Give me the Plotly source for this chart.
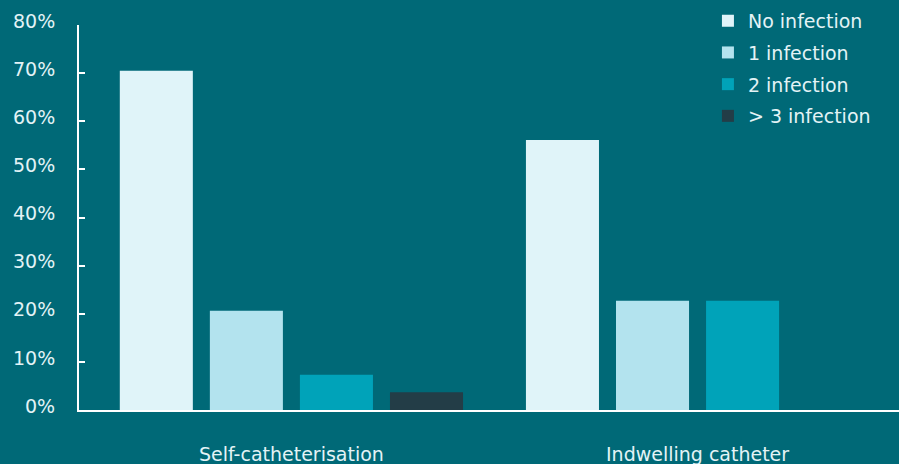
import plotly.graph_objects as go

categories = ["Self-catheterisation", "Indwelling catheter"]
series_names = ["No infection", "1 infection", "2 infection", "> 3 infection"]
no_infection = [70.5, 56.1]
one_infection = [20.6, 22.7]
two_infection = [7.3, 22.7]
three_plus_infection = [3.7, 0.0]
ytick_vals = [0, 10, 20, 30, 40, 50, 60, 70, 80]
ytick_text = ["0%", "10%", "20%", "30%", "40%", "50%", "60%", "70%", "80%"]

colors = ["#e0f4f9", "#b3e3ee", "#00a3b9", "#233d47"]
values = [no_infection, one_infection, two_infection, three_plus_infection]

BG = "#006977"
TXT = "#e3f3f6"
FONT = "DejaVu Sans"

fig = go.Figure()
for name, vals, col in zip(series_names, values, colors):
    fig.add_trace(go.Bar(x=categories, y=vals, name=name, marker_color=col,
                         marker_line_width=0, legendgroup=name))

fig.update_layout(
    width=899, height=464,
    paper_bgcolor=BG, plot_bgcolor=BG,
    margin=dict(l=79, r=0, t=25, b=54, autoexpand=False),
    barmode="group", bargap=0.113, bargroupgap=0.189,
    font=dict(family=FONT, size=19, color=TXT),
    legend=dict(x=0.767, xanchor="left", y=1.06, yanchor="top",
                bgcolor="rgba(0,0,0,0)", font=dict(size=19, color=TXT),
                tracegroupgap=4),
    xaxis=dict(range=[-0.523, 1.496], showline=True, linecolor="white", linewidth=2,
               ticks="", showgrid=False, zeroline=False, ticklabelstandoff=26,
               tickfont=dict(size=19, color=TXT)),
    yaxis=dict(range=[0, 80], tickvals=ytick_vals, ticktext=ytick_text,
               showline=True, linecolor="white", linewidth=2,
               ticks="inside", ticklen=6, tickwidth=2, tickcolor="white",
               showgrid=False, zeroline=False, ticklabelstandoff=18,
               ticklabelshift=-4,
               tickfont=dict(size=19, color=TXT)),
)

fig.write_html("out.html", config={"displayModeBar": False},
               post_script="document.body.style.margin='0';document.body.style.overflow='hidden';")
